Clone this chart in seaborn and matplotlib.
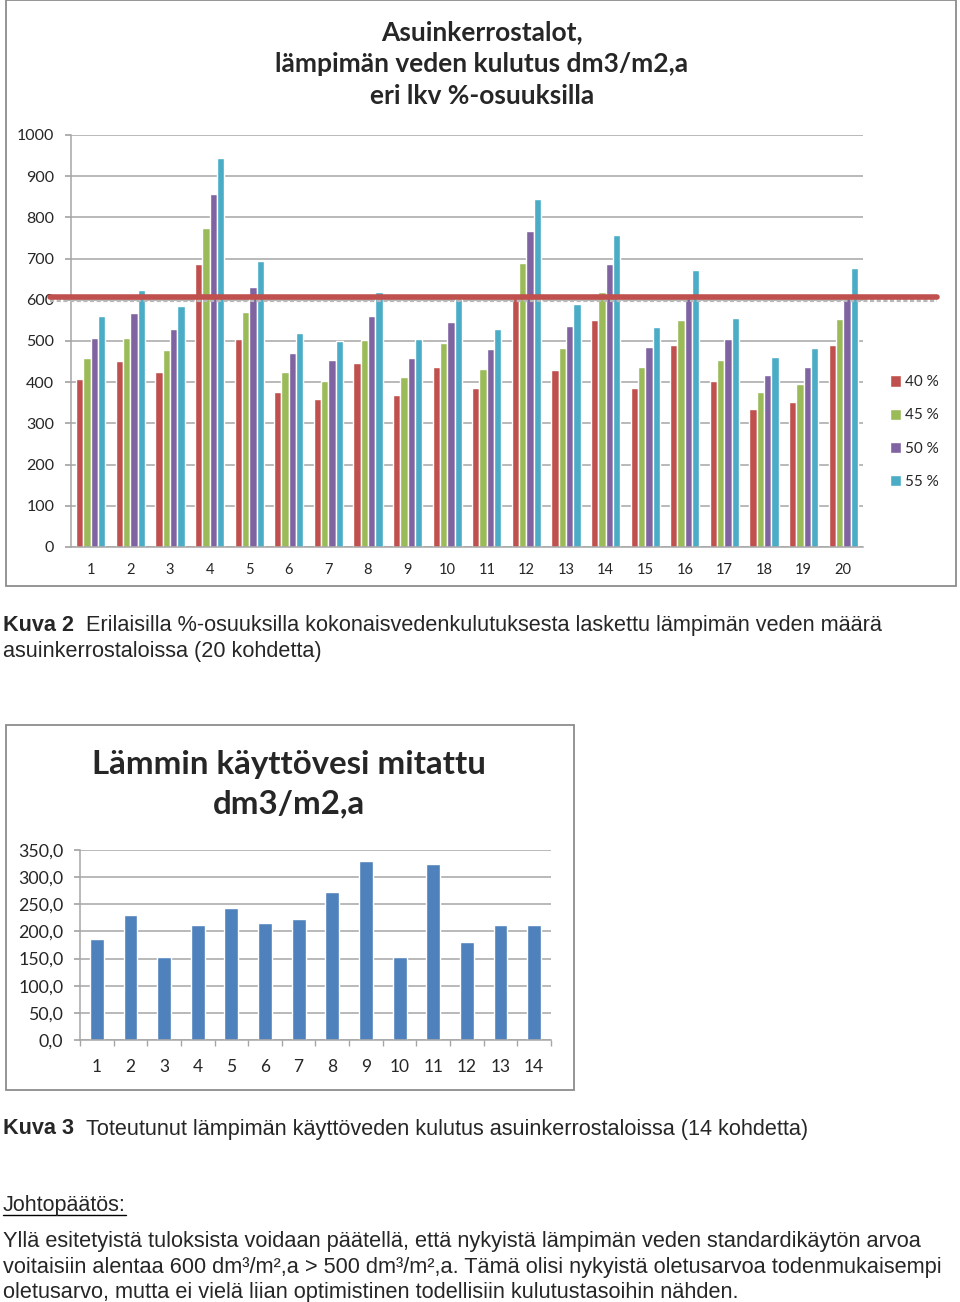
import matplotlib
matplotlib.use("Agg")
import matplotlib.pyplot as plt
from matplotlib.patches import Rectangle
from matplotlib.lines import Line2D
from matplotlib.ticker import FuncFormatter, MultipleLocator, FixedLocator
import seaborn as sns
import pandas as pd
import numpy as np

# ---------------- data ----------------
kohteet1 = [str(i) for i in range(1, 21)]
osuudet = ["40 %", "45 %", "50 %", "55 %"]
arvot_40 = [407, 452, 424, 688, 504, 376, 360, 446, 368, 437,
            385, 608, 430, 550, 387, 491, 404, 334, 352, 491]
arvot_45 = [458, 508, 477, 774, 570, 424, 404, 503, 413, 494,
            432, 690, 483, 618, 438, 550, 455, 376, 395, 553]
arvot_50 = [508, 567, 530, 858, 631, 471, 453, 561, 458, 547,
            480, 768, 536, 688, 485, 604, 504, 418, 438, 604]
arvot_55 = [560, 623, 584, 945, 695, 520, 499, 618, 504, 602,
            528, 844, 591, 757, 534, 673, 555, 462, 483, 676]
viiva_arvo = 608  # hand-drawn red reference line

kohteet2 = [str(i) for i in range(1, 15)]
mitattu = [185.4, 230.9, 153.5, 211.8, 243.2, 216.1, 222.3, 273.2,
           329.1, 152.3, 324.8, 181.1, 211.2, 211.2]

otsikko1 = "Asuinkerrostalot,\nlämpimän veden kulutus dm3/m2,a\neri lkv %-osuuksilla"
otsikko2 = "Lämmin käyttövesi mitattu\ndm3/m2,a"

# ---------------- style ----------------
sns.set_theme(style="white")
plt.rcParams["font.family"] = ["Lato", "DejaVu Sans"]

W, H = 960, 1302
fig = plt.figure(figsize=(W / 100, H / 100), dpi=100)
fx = lambda px: px / W
fy = lambda py: 1 - py / H

palette = ["#C0504D", "#9BBB59", "#8064A2", "#4BACC6"]
grid_c = "#A6A6A6"
frame_c = "#8C8C8C"

# frames
fig.add_artist(Rectangle((fx(6), fy(586)), fx(950), 586 / H, transform=fig.transFigure,
                         fill=False, edgecolor=frame_c, lw=1.3))
fig.add_artist(Rectangle((fx(6), fy(1090)), fx(568), 365 / H, transform=fig.transFigure,
                         fill=False, edgecolor=frame_c, lw=1.3))

# ---------------- chart 1 ----------------
df1 = pd.DataFrame({
    "kohde": np.tile(kohteet1, 4),
    "osuus": np.repeat(osuudet, len(kohteet1)),
    "arvo": arvot_40 + arvot_45 + arvot_50 + arvot_55,
})
ax1 = fig.add_axes([fx(71), fy(547), 792 / W, 412 / H])
sns.barplot(data=df1, x="kohde", y="arvo", hue="osuus", palette=palette,
            width=0.74, gap=0, saturation=1, ax=ax1, legend=True)
for p in ax1.patches:
    p.set_zorder(3)
ax1.set_ylim(0, 1000)
ax1.set_xlim(-0.5, 19.5)
ax1.yaxis.set_major_locator(MultipleLocator(100))
ax1.grid(axis="y", color=grid_c, lw=1.1, zorder=0)
ax1.set_axisbelow(True)
for s in ["top", "right"]:
    ax1.spines[s].set_visible(False)
for s in ["left", "bottom"]:
    ax1.spines[s].set_color(grid_c)
    ax1.spines[s].set_linewidth(1.1)
    ax1.spines[s].set_zorder(4)
ax1.set_xlabel("")
ax1.set_ylabel("")
ax1.tick_params(axis="y", left=True, length=4, color=grid_c, labelsize=11.5, pad=8)
ax1.tick_params(axis="x", bottom=False, labelsize=10.5, pad=5.5)

# red reference line (hand drawn over the image)
ax1.axhline(viiva_arvo - 9, xmin=-0.026, xmax=1.093, color="#B8B8B8", lw=3,
            ls=(0, (1, 0.6)), clip_on=False, zorder=5)
ax1.axhline(viiva_arvo, xmin=-0.026, xmax=1.093, color="#C0504D", lw=4,
            clip_on=False, zorder=6)

leg = ax1.legend(loc="center left", bbox_to_anchor=(fx(882), fy(432)),
                 bbox_transform=fig.transFigure, frameon=False, fontsize=11,
                 handlelength=0.75, handleheight=0.75, handletextpad=0.25,
                 labelspacing=1.25, borderpad=0)

fig.text(fx(482), fy(64), otsikko1, ha="center", va="center", fontsize=19,
         fontweight="bold", linespacing=1.39)

# ---------------- chart 2 ----------------
ax2 = fig.add_axes([fx(80), fy(1040), 471 / W, 190 / H])
sns.barplot(x=kohteet2, y=mitattu, color="#4F81BD", width=0.41, saturation=1, ax=ax2)
for p in ax2.patches:
    p.set_zorder(3)
ax2.set_ylim(0, 350)
ax2.set_xlim(-0.5, 13.5)
ax2.yaxis.set_major_locator(MultipleLocator(50))
ax2.yaxis.set_major_formatter(FuncFormatter(lambda v, p: f"{v:.1f}".replace(".", ",")))
ax2.grid(axis="y", color=grid_c, lw=1.1, zorder=0)
ax2.set_axisbelow(True)
for s in ["top", "right"]:
    ax2.spines[s].set_visible(False)
for s in ["left", "bottom"]:
    ax2.spines[s].set_color(grid_c)
    ax2.spines[s].set_linewidth(1.1)
    ax2.spines[s].set_zorder(4)
ax2.xaxis.set_minor_locator(FixedLocator(np.arange(-0.5, 14, 1)))
ax2.tick_params(axis="x", which="major", bottom=False, labelsize=12.5, pad=8)
ax2.tick_params(axis="x", which="minor", bottom=True, length=4, color=grid_c, direction="out")
ax2.tick_params(axis="y", left=True, length=4, color=grid_c, labelsize=12.8, pad=8)
ax2.set_xlabel("")
ax2.set_ylabel("")

fig.text(fx(289), fy(784), otsikko2, ha="center", va="center", fontsize=23.8,
         fontweight="bold", linespacing=1.42)

# ---------------- captions & text ----------------
cap_font = ["Liberation Sans", "DejaVu Sans"]
cap_size = 15.6
fig.text(fx(3), fy(625), "Kuva 2", ha="left", va="center", fontsize=cap_size,
         fontweight="bold", family=cap_font)
fig.text(fx(86), fy(625), "Erilaisilla %-osuuksilla kokonaisvedenkulutuksesta laskettu lämpimän veden määrä",
         ha="left", va="center", fontsize=cap_size, family=cap_font)
fig.text(fx(3), fy(651), "asuinkerrostaloissa (20 kohdetta)", ha="left", va="center",
         fontsize=cap_size, family=cap_font)

fig.text(fx(3), fy(1129), "Kuva 3", ha="left", va="center", fontsize=cap_size,
         fontweight="bold", family=cap_font)
fig.text(fx(86), fy(1129), "Toteutunut lämpimän käyttöveden kulutus asuinkerrostaloissa (14 kohdetta)",
         ha="left", va="center", fontsize=cap_size, family=cap_font)

para_font = ["Liberation Sans", "DejaVu Sans"]
jt = fig.text(fx(3), fy(1205), "Johtopäätös:", ha="left", va="center", fontsize=15.5,
              family=para_font)
para = ("Yllä esitetyistä tuloksista voidaan päätellä, että nykyistä lämpimän veden standardikäytön arvoa\n"
        "voitaisiin alentaa 600 dm³/m²,a > 500 dm³/m²,a. Tämä olisi nykyistä oletusarvoa todenmukaisempi\n"
        "oletusarvo, mutta ei vielä liian optimistinen todellisiin kulutustasoihin nähden.")
fig.text(fx(3), fy(1267), para, ha="left", va="center", fontsize=15.7, family=para_font,
         linespacing=1.28)

fig.canvas.draw()
bb = jt.get_window_extent(fig.canvas.get_renderer())
fig.add_artist(Line2D([bb.x0 / W, bb.x1 / W], [(bb.y0 + 1) / H, (bb.y0 + 1) / H],
                      transform=fig.transFigure, color="black", lw=1))

fig.savefig("out.png", dpi=100)
